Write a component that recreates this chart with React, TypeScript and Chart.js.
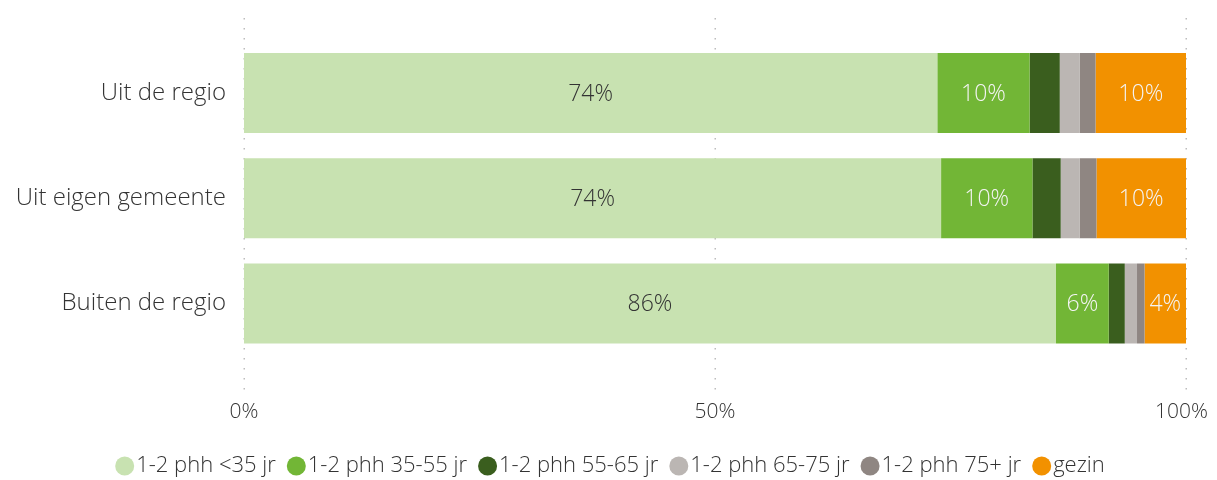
import React, { useEffect, useRef } from "react";
import { Chart, registerables } from "chart.js";

Chart.register(...registerables);

if (typeof document !== "undefined") {
  document.documentElement.style.overflow = "hidden";
}

const categories = ["Uit de regio", "Uit eigen gemeente", "Buiten de regio"];
const seriesNames = [
  "1-2 phh <35 jr",
  "1-2 phh 35-55 jr",
  "1-2 phh 55-65 jr",
  "1-2 phh 65-75 jr",
  "1-2 phh 75+ jr",
  "gezin",
];
const phhUnder35 = [73.6, 74.0, 86.2];
const phh35to55 = [9.8, 9.7, 5.6];
const phh55to65 = [3.2, 3.0, 1.7];
const phh65to75 = [2.1, 2.0, 1.3];
const phh75plus = [1.7, 1.8, 0.8];
const gezin = [9.6, 9.5, 4.4];
const seriesValues = [phhUnder35, phh35to55, phh55to65, phh65to75, phh75plus, gezin];
const colors = ["#C8E2B1", "#72B636", "#3A5E1E", "#BBB6B3", "#8F8682", "#F29100"];
const labelColors = ["#333333", "#F4F4F4", "#F4F4F4", "#F4F4F4", "#F4F4F4", "#F4F4F4"];
const xTicks = [0, 50, 100];
const xTickLabels = ["0%", "50%", "100%"];

const FONT = "'Open Sans', 'Segoe UI', sans-serif";
const W = 1201;
const H = 472;

const gridPlugin = {
  id: "dottedGrid",
  beforeDatasetsDraw(chart: any) {
    const { ctx, scales } = chart;
    const x = scales.x;
    ctx.save();
    ctx.fillStyle = "#BDBDBD";
    xTicks.forEach((t) => {
      const px = Math.round(x.getPixelForValue(t));
      for (let y = 10; y <= 380; y += 10) {
        ctx.fillRect(px - 0.5, y, 1.5, 1.5);
      }
    });
    ctx.restore();
  },
  afterDraw(chart: any) {
    const { ctx, scales } = chart;
    const x = scales.x;
    ctx.save();
    ctx.font = `300 21px ${FONT}`;
    ctx.fillStyle = "#333333";
    ctx.textAlign = "center";
    ctx.textBaseline = "middle";
    xTicks.forEach((t, i) => {
      const label = xTickLabels[i];
      const half = ctx.measureText(label).width / 2;
      let px = x.getPixelForValue(t);
      px = Math.min(px, chart.width - half - 1);
      ctx.fillText(label, px, 404);
    });
    ctx.restore();
  },
};

const valueLabelPlugin = {
  id: "valueLabels",
  afterDatasetsDraw(chart: any) {
    const { ctx } = chart;
    ctx.save();
    ctx.font = `300 23px ${FONT}`;
    ctx.textAlign = "center";
    ctx.textBaseline = "middle";
    chart.data.datasets.forEach((ds: any, di: number) => {
      const meta = chart.getDatasetMeta(di);
      meta.data.forEach((bar: any, i: number) => {
        const v = ds.data[i];
        if (v < 4) return;
        const cx = (bar.x + bar.base) / 2;
        ctx.fillStyle = labelColors[di];
        ctx.fillText(Math.round(v) + "%", cx, bar.y + 1);
      });
    });
    ctx.restore();
  },
};

const legendPlugin = {
  id: "customLegend",
  afterDraw(chart: any) {
    const { ctx } = chart;
    ctx.save();
    ctx.font = `300 22px ${FONT}`;
    ctx.textBaseline = "middle";
    ctx.textAlign = "left";
    const d = 19;
    const gap = 2;
    const spacing = 11;
    const widths = seriesNames.map((n) => d + gap + ctx.measureText(n).width);
    const total = widths.reduce((a, b) => a + b, 0) + spacing * (seriesNames.length - 1);
    let x = 602 - total / 2;
    const cy = 458;
    seriesNames.forEach((n, i) => {
      ctx.fillStyle = colors[i];
      ctx.beginPath();
      ctx.arc(x + d / 2, cy, d / 2, 0, Math.PI * 2);
      ctx.fill();
      ctx.fillStyle = "#333333";
      ctx.fillText(n, x + d + gap, cy);
      x += widths[i] + spacing;
    });
    ctx.restore();
  },
};

export default function App() {
  const ref = useRef<HTMLCanvasElement | null>(null);
  useEffect(() => {
    const chart = new Chart(ref.current as HTMLCanvasElement, {
      type: "bar",
      data: {
        labels: categories,
        datasets: seriesNames.map((name, i) => ({
          label: name,
          data: seriesValues[i],
          backgroundColor: colors[i],
          borderWidth: 0,
          barPercentage: 0.76,
          categoryPercentage: 1,
        })),
      },
      options: {
        indexAxis: "y",
        animation: false,
        responsive: false,
        layout: { padding: { top: 31, right: 23, left: 0, bottom: 28 } },
        scales: {
          x: {
            stacked: true,
            min: 0,
            max: 100,
            grid: { display: false, drawTicks: false },
            border: { display: false },
            ticks: { stepSize: 50, display: false },
            afterFit: (s: any) => {
              s.height = 96;
              s.paddingRight = 0;
              s.paddingLeft = 0;
            },
          },
          y: {
            stacked: true,
            grid: { display: false, drawTicks: false },
            border: { display: false },
            ticks: {
              padding: 18,
              color: "#333333",
              font: { family: FONT, size: 24, weight: "300" },
            },
            afterFit: (s: any) => {
              s.width = 236;
            },
          },
        },
        plugins: {
          legend: { display: false },
          tooltip: { enabled: false },
        },
      },
      plugins: [gridPlugin, valueLabelPlugin, legendPlugin],
    } as any);
    return () => chart.destroy();
  }, []);
  return (
    <div style={{ width: W, height: H }}>
      <canvas ref={ref} width={W} height={H} style={{ display: "block" }} />
    </div>
  );
}
